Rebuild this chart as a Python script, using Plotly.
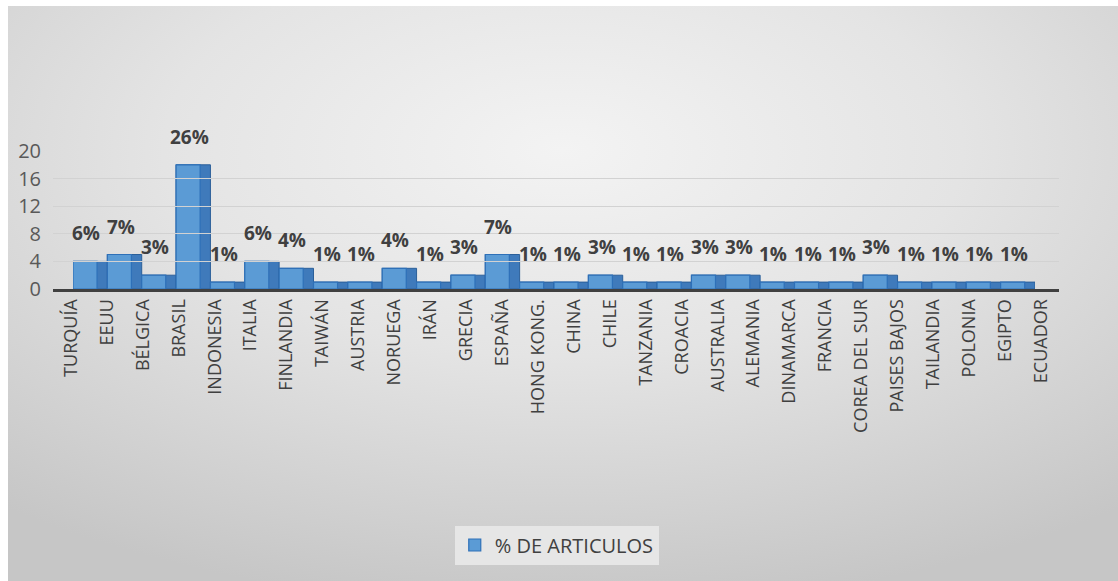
import base64
import plotly.graph_objects as go

countries = ["TURQUÍA", "EEUU", "BÉLGICA", "BRASIL", "INDONESIA", "ITALIA", "FINLANDIA",
             "TAIWÁN", "AUSTRIA", "NORUEGA", "IRÁN", "GRECIA", "ESPAÑA", "HONG KONG.",
             "CHINA", "CHILE", "TANZANIA", "CROACIA", "AUSTRALIA", "ALEMANIA", "DINAMARCA",
             "FRANCIA", "COREA DEL SUR", "PAISES BAJOS", "TAILANDIA", "POLONIA", "EGIPTO",
             "ECUADOR"]
articles = [4, 5, 2, 18, 1, 4, 3, 1, 1, 3, 1, 2, 5, 1, 1, 2, 1, 1, 2, 2, 1, 1, 1, 2, 1, 1, 1, 1]
pct_labels = ["6%", "7%", "3%", "26%", "1%", "6%", "4%", "1%", "1%", "4%", "1%", "3%", "7%",
              "1%", "1%", "3%", "1%", "1%", "3%", "3%", "1%", "1%", "1%", "3%", "1%", "1%",
              "1%", "1%"]
y_ticks = [0, 4, 8, 12, 16, 20]

W, H = 1118, 581
T, B = 151, 292
PH = H - T - B          # plot height in px
Y0 = H - B              # pixel row of y=0
N = len(countries)


def px_x(px):
    return px / W


def px_y(py):
    return (Y0 - py) / PH


svg = ("<svg xmlns='http://www.w3.org/2000/svg' width='1110' height='575' preserveAspectRatio='none'>"
       "<defs><radialGradient id='g' cx='0.5' cy='0.25' r='0.8'>"
       "<stop offset='0' stop-color='#f3f3f3'/><stop offset='0.45' stop-color='#e4e4e4'/>"
       "<stop offset='1' stop-color='#c6c6c6'/></radialGradient></defs>"
       "<rect width='100%' height='100%' fill='url(#g)'/></svg>")
bg_src = "data:image/svg+xml;base64," + base64.b64encode(svg.encode()).decode()

fig = go.Figure()
# darker "side" of the pseudo-3D bars
fig.add_trace(go.Bar(
    x=countries, y=articles, width=1.0, offset=-0.5, showlegend=False, hoverinfo="skip",
    marker=dict(color="#3f7abb", line=dict(color="#2b5f99", width=1)),
))
# front face
fig.add_trace(go.Bar(
    x=countries, y=articles, width=0.7, offset=-0.5, name="% DE ARTICULOS",
    marker=dict(color="#5b9bd5", line=dict(color="#2e70b8", width=1.2)),
))
# invisible helper on the label axis
fig.add_trace(go.Scatter(
    x=countries, y=articles, xaxis="x2", yaxis="y", mode="markers",
    marker=dict(opacity=0), showlegend=False, hoverinfo="skip",
))

for c, v, t in zip(countries, articles, pct_labels):
    fig.add_annotation(x=c, y=v, xref="x", yref="y", text=t, showarrow=False,
                       yanchor="bottom", xanchor="center", yshift=13, xshift=-4,
                       font=dict(family="Open Sans", size=19, color="#404040", weight="bold"))

fig.update_layout(
    width=W, height=H,
    margin=dict(l=0, r=0, t=T, b=B),
    paper_bgcolor="white", plot_bgcolor="rgba(0,0,0,0)",
    barmode="overlay",
    font=dict(family="Open Sans", color="#595959"),
    showlegend=True,
    legend=dict(orientation="h", x=0.498, xanchor="center", y=px_y(545), yanchor="middle",
                font=dict(size=20, color="#404040"), bgcolor="#e6e6e6"),
    xaxis=dict(domain=[px_x(73), px_x(1035)], anchor="y", showticklabels=False,
               showline=False, showgrid=False, ticks="", categoryorder="array",
               categoryarray=countries, range=[-0.5, N - 0.5], autorange=False),
    xaxis2=dict(domain=[px_x(53), px_x(1059)], anchor="y", tickangle=-90,
                tickfont=dict(size=18, color="#404040"), showline=True,
                linecolor="#404040", linewidth=3, ticks="", showgrid=False,
                categoryorder="array", categoryarray=countries,
                range=[-0.5, N - 0.5], autorange=False),
    yaxis=dict(range=[0, 20], tickvals=y_ticks, anchor="x2",
               tickfont=dict(size=20, color="#595959"),
               gridcolor="#d2d2d2", gridwidth=1, zeroline=False, ticks="",
               showline=False, ticklabelstandoff=11),
    images=[dict(source=bg_src, xref="paper", yref="paper", x=px_x(8), y=px_y(6),
                 sizex=px_x(1118) - px_x(8), sizey=px_y(6) - px_y(581),
                 xanchor="left", yanchor="top", sizing="stretch", layer="below")],
)

fig.write_html("out.html")
